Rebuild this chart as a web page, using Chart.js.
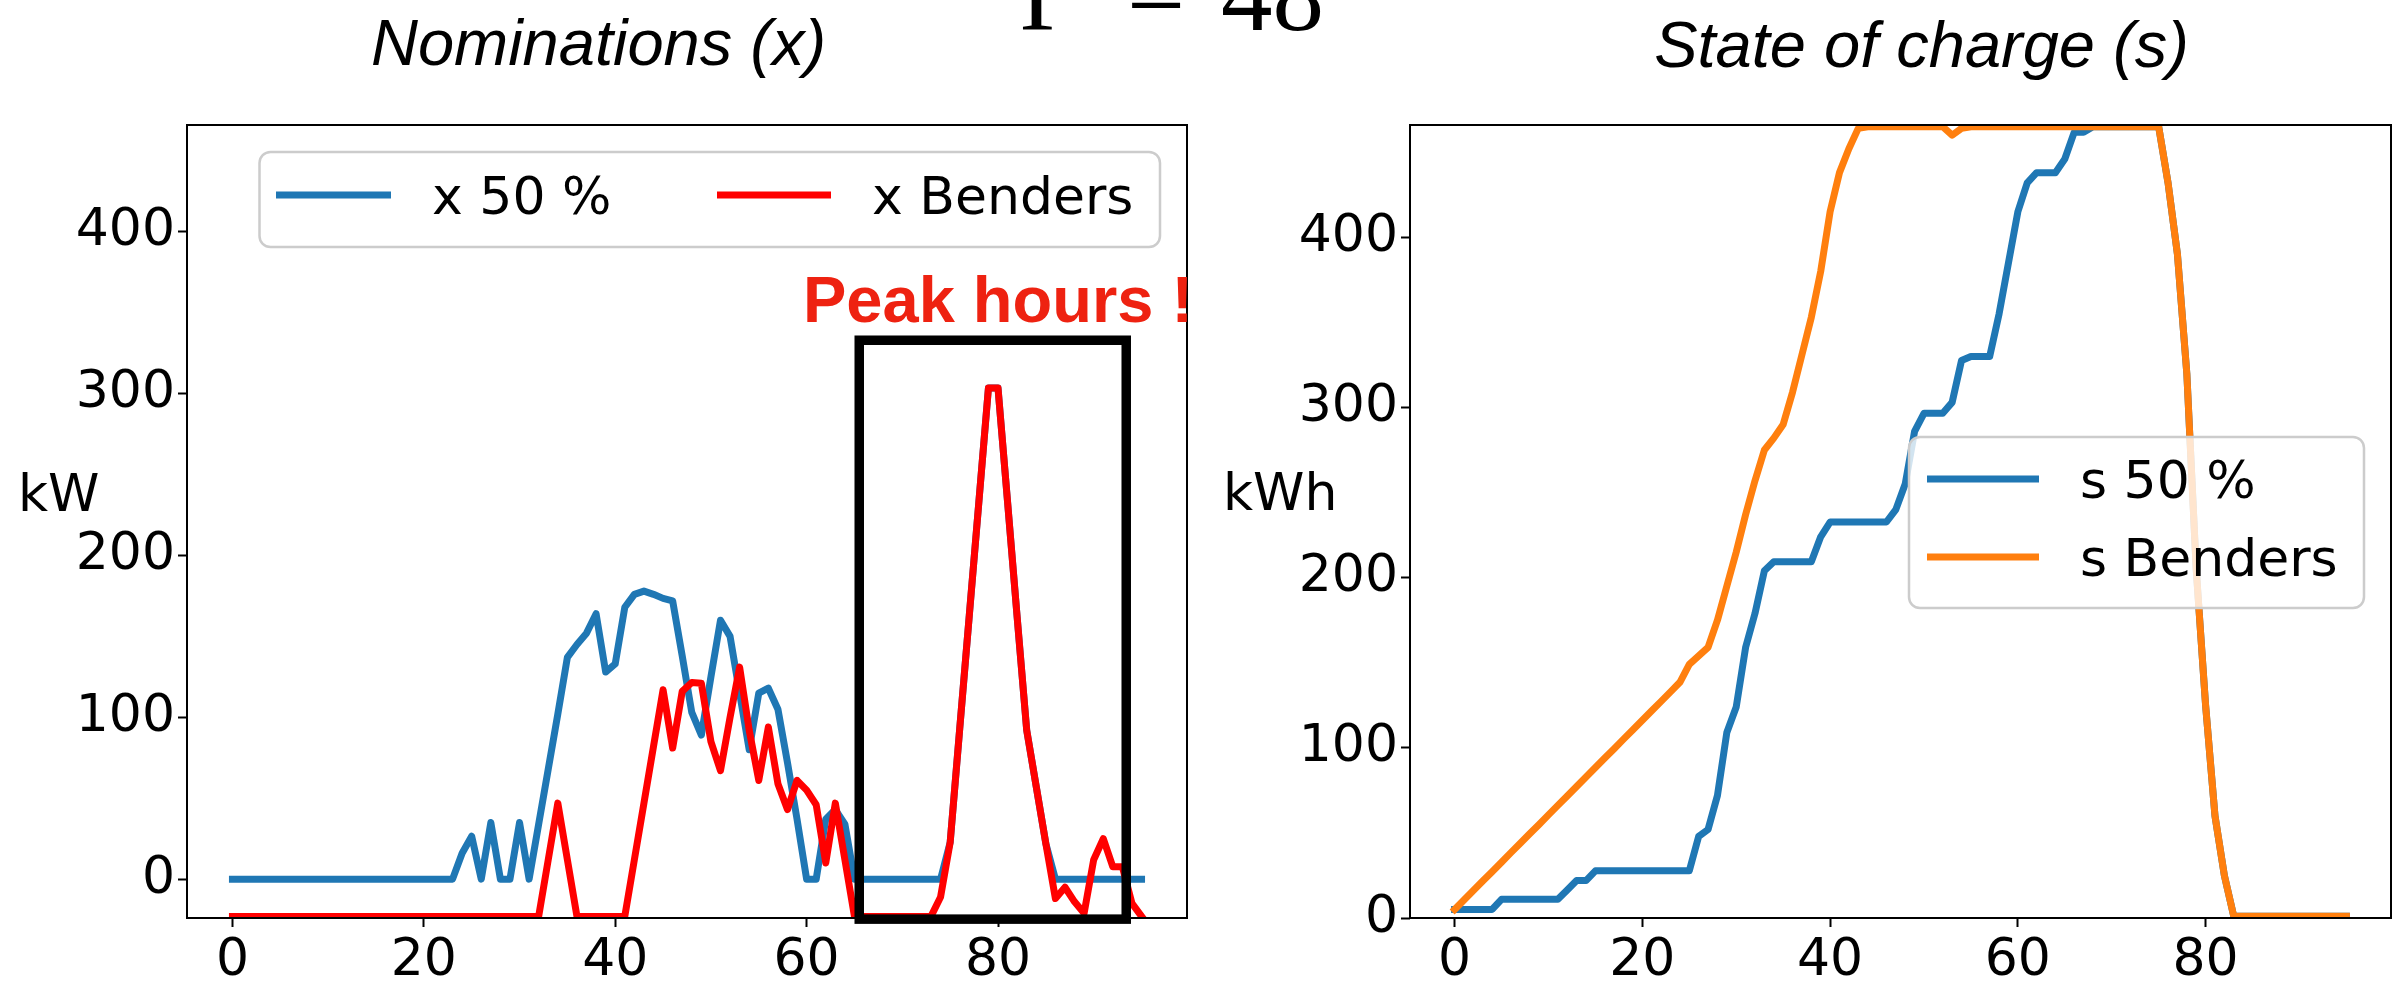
<!DOCTYPE html>
<html><head><meta charset="utf-8">
<script src="https://cdn.jsdelivr.net/npm/chart.js@4.4.1/dist/chart.umd.min.js"></script>
<style>
html,body{margin:0;padding:0;background:#fff;}
body{width:2402px;height:982px;position:relative;overflow:hidden;}
canvas{position:absolute;top:0;}
#c1{left:0;width:1200px;height:982px;}
#c2{left:1000px;width:1402px;height:982px;}
</style></head><body>
<canvas id="c1" width="1200" height="982"></canvas>
<canvas id="c2" width="1402" height="982"></canvas>
<script>
// ---------- data ----------
const hours = Array.from({length: 96}, (_, i) => i);
const xTickValues = [0, 20, 40, 60, 80];
const nomYTickValues = [0, 100, 200, 300, 400];
const socYTickValues = [0, 100, 200, 300, 400];

const nomination50 = [
  0,0,0,0,0,0,0,0,0,0,0,0,0,0,0,0,0,0,0,0,0,0,0,0,
  16,26.5,0,35,0,0,35,0,
  34,68,102,137,145,152,164,128,
  133,168,176,178,176,173.5,172,138,
  103,89,125,160,150,115,80,115,
  118,105,72,37,0,0,37,43,
  34,
  0,0,0,0,0,0,0,0,0,0,
  22.7,93,163,233,303.5,303.5,233,162,92,57,22,
  0,0,0,0,0,0,0,0,0,0
];
const nominationBenders = [
  -23,-23,-23,-23,-23,-23,-23,-23,-23,-23,-23,-23,-23,-23,-23,-23,-23,-23,-23,-23,-23,-23,-23,-23,-23,-23,-23,-23,-23,-23,-23,-23,-23,
  12,47,12,-23,-23,-23,-23,-23,-23,
  12,47,82,117,81,116,121.5,121,
  85,67,100,131,92,61,94,59,
  43,61,55,46,10,47,12,
  -23,-23,-23,-23,-23,-23,-23,-23,-23,
  -11,22.7,93,163,233,303.5,303.5,233,162,92,57,22,
  -12,-5,-14,-21,12,25,7.6,7.6,-15,-23
];
const soc50 = [
  5,5,5,5,5,11,11,11,11,11,11,11,16.5,22,22,
  27.7,27.7,27.7,27.7,27.7,27.7,27.7,27.7,27.7,27.7,27.7,
  48,52,72,109,124,159,179,204,
  209.4,209.4,209.4,209.4,209.4,224,
  232.7,232.7,232.7,232.7,232.7,232.7,232.7,240,255,286,
  296.6,296.6,296.6,303,327.6,330,330,330,355,385,415,432,
  438,438,438,446,461.7,461.7,
  465,465,465,465,465,465,465,465,
  432,390,320,205,125,60,25,
  1,1,1,1,1,1,1,1,1,1,1,1,1
];
const socBenders = [
  5,10.6,16.1,21.7,27.2,32.8,38.4,43.9,49.5,55,60.6,66.2,71.7,77.3,82.8,88.4,94,99.5,105.1,110.6,116.2,121.8,127.3,132.9,138.5,
  149,154,159,175,195,215,237,257,275,282,290,309,331,353,380,415,438,452,464,
  465,465,465,465,465,465,465,465,465,460,464,
  465,465,465,465,465,465,465,465,465,465,465,465,465,465,465,465,465,465,465,465,465,
  432,390,320,205,125,60,25,
  1,1,1,1,1,1,1,1,1,1,1,1,1
];
// peak-hours highlight, in data units of the nominations chart
const peakWindow = [65.5, 93.4];
const peakLevels = [-24.7, 333];

// ---------- helpers ----------
const FONT = '"DejaVu Sans"';
const pts = ys => hours.map((h, i) => ({x: h, y: ys[i]}));
const setTicks = vals => s => { s.ticks = vals.map(v => ({value: v})); };

function roundRect(ctx, x, y, w, h, r) {
  ctx.beginPath();
  ctx.moveTo(x + r, y);
  ctx.lineTo(x + w - r, y); ctx.arcTo(x + w, y, x + w, y + r, r);
  ctx.lineTo(x + w, y + h - r); ctx.arcTo(x + w, y + h, x + w - r, y + h, r);
  ctx.lineTo(x + r, y + h); ctx.arcTo(x, y + h, x, y + h - r, r);
  ctx.lineTo(x, y + r); ctx.arcTo(x, y, x + r, y, r);
  ctx.closePath();
}

const decor = {
  id: 'decor',
  afterDatasetsDraw(chart, args, o) {
    const ctx = chart.ctx, a = chart.chartArea;
    ctx.save();
    // axes frame
    ctx.strokeStyle = '#000'; ctx.lineWidth = 2;
    ctx.strokeRect(a.left, a.top, a.right - a.left, a.bottom - a.top);
    // legend
    const L = o.legend;
    roundRect(ctx, L.x, L.y, L.w, L.h, 11);
    ctx.fillStyle = 'rgba(255,255,255,0.8)'; ctx.fill();
    ctx.strokeStyle = '#cccccc'; ctx.lineWidth = 2.5; ctx.stroke();
    chart.data.datasets.forEach((ds, i) => {
      const e = L.items[i];
      ctx.beginPath(); ctx.moveTo(e.x0, e.y); ctx.lineTo(e.x1, e.y);
      ctx.strokeStyle = ds.borderColor; ctx.lineWidth = 7; ctx.lineCap = 'butt'; ctx.stroke();
      ctx.fillStyle = '#000'; ctx.font = '52px ' + FONT;
      ctx.textBaseline = 'alphabetic'; ctx.textAlign = 'left';
      ctx.fillText(ds.label, e.tx, e.base);
    });
    // title
    ctx.font = 'italic 65px "Liberation Sans"';
    ctx.fillStyle = '#000'; ctx.textAlign = 'center'; ctx.textBaseline = 'alphabetic';
    ctx.fillText(o.title.text, o.title.x, o.title.y);
    // unit label
    ctx.font = '52px ' + FONT; ctx.textAlign = 'left';
    ctx.fillText(o.unit.text, o.unit.x, o.unit.y);
    // highlight
    if (o.peak) {
      const xs = chart.scales.x, ys = chart.scales.y;
      const x0 = xs.getPixelForValue(peakWindow[0]), x1 = xs.getPixelForValue(peakWindow[1]);
      const y0 = ys.getPixelForValue(peakLevels[1]), y1 = ys.getPixelForValue(peakLevels[0]);
      ctx.strokeStyle = '#000'; ctx.lineWidth = 9.5; ctx.lineJoin = 'miter';
      ctx.strokeRect(x0, y0, x1 - x0, y1 - y0);
      ctx.font = 'bold 65px "Liberation Sans"'; ctx.fillStyle = '#ee2211';
      ctx.textAlign = 'left';
      ctx.fillText(o.peak.text, o.peak.x, o.peak.y);
    }
    if (o.gamma) {
      ctx.font = '103px "Liberation Serif"'; ctx.fillStyle = '#000';
      ctx.textAlign = 'left'; ctx.fillText('Γ', o.gamma.x0, o.gamma.y);
      ctx.textAlign = 'center'; ctx.fillText('=', o.gamma.xe, o.gamma.y);
      ctx.textAlign = 'left'; ctx.fillText('48', o.gamma.x1, o.gamma.y);
    }
    ctx.restore();
  }
};

function axisCommon(min, max, vals, extra) {
  return Object.assign({
    type: 'linear', min, max,
    afterBuildTicks: setTicks(vals),
    ticks: {font: {family: 'DejaVu Sans', size: 52}, color: '#000', autoSkip: false, maxRotation: 0, includeBounds: false},
    grid: {drawOnChartArea: false, drawTicks: true, tickLength: 9, tickWidth: 2, tickColor: '#000'},
    border: {display: false}
  }, extra);
}

function makeChart(id, datasets, yMin, yMax, yVals, yWidth, padRight, decorOpts) {
  return new Chart(document.getElementById(id), {
    type: 'line',
    data: {datasets},
    options: {
      responsive: false, animation: false, devicePixelRatio: 1,
      layout: {padding: {top: 125, right: padRight, bottom: 0, left: 0}},
      plugins: {legend: {display: false}, tooltip: {enabled: false}, decor: decorOpts},
      scales: {
        x: axisCommon(-4.75, 99.75, xTickValues, {afterFit: s => { s.height = 64; }}),
        y: axisCommon(yMin, yMax, yVals, {afterFit: s => { s.width = yWidth; }})
      }
    },
    plugins: [decor]
  });
}
// later datasets are drawn on top (as in the original): give them a lower `order`
const lineDs = (label, ys, color, order) => ({
  label, data: pts(ys), borderColor: color, borderWidth: 7, pointRadius: 0, order,
  tension: 0, fill: false, clip: 0, borderJoinStyle: 'round', borderCapStyle: 'square'
});

makeChart('c1', [
  lineDs('x 50 %', nomination50, '#1f77b4', 2),
  lineDs('x Benders', nominationBenders, '#ff0000', 1)
], -24, 466, nomYTickValues, 187, 13, {
  legend: {x: 259.5, y: 152, w: 900.5, h: 95,
    items: [{x0: 276, x1: 391, y: 195, tx: 432, base: 213.5},
            {x0: 717, x1: 831, y: 195, tx: 872, base: 213.5}]},
  title: {text: 'Nominations (x)', x: 598.5, y: 65},
  unit: {text: 'kW', x: 18, y: 511},
  peak: {text: 'Peak hours !', x: 803, y: 322}
});

makeChart('c2', [
  lineDs('s 50 %', soc50, '#1f77b4', 2),
  lineDs('s Benders', socBenders, '#ff7f0e', 1)
], 0, 466, socYTickValues, 410, 11, {
  legend: {x: 909, y: 437, w: 455, h: 171,
    items: [{x0: 927, x1: 1039, y: 479, tx: 1080, base: 498},
            {x0: 927, x1: 1039, y: 557, tx: 1080, base: 576}]},
  title: {text: 'State of charge (s)', x: 921.5, y: 67},
  unit: {text: 'kWh', x: 223, y: 510},
  gamma: {x0: 20, xe: 156, x1: 221, y: 30}
});
</script></body></html>
